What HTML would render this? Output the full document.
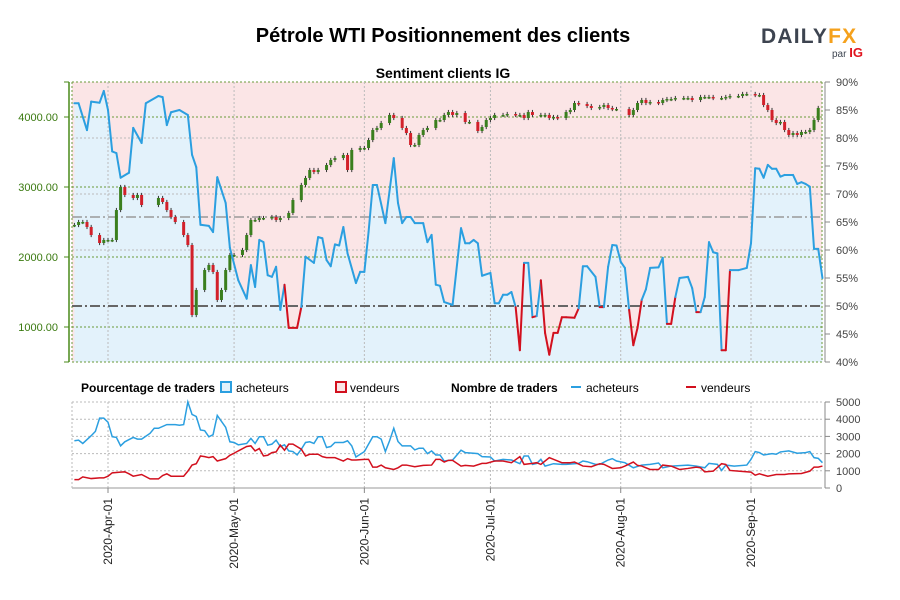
<!DOCTYPE html>
<html><head><meta charset="utf-8">
<style>
body{margin:0;background:#fff;width:900px;height:600px;overflow:hidden;font-family:"Liberation Sans",sans-serif}
svg{display:block}
</style></head>
<body>
<svg id="c" width="900" height="600" xmlns="http://www.w3.org/2000/svg">
<text x="443" y="42" text-anchor="middle" font-size="20" font-weight="bold" fill="#000">Pétrole WTI Positionnement des clients</text>
<text x="443" y="78" text-anchor="middle" font-size="14" font-weight="bold" fill="#000">Sentiment clients IG</text>
<g>
<text x="761" y="43" font-size="21" font-weight="bold" letter-spacing="1.2" fill="#3d4450">DAILY<tspan fill="#f5a11c">FX</tspan></text>
<text x="832" y="57" font-size="10" fill="#3d4450">par <tspan font-weight="bold" font-size="13" fill="#e0141e">IG</tspan></text>
</g>
<g id="main"></g>
<g id="lower"></g>
<g font-family="'Liberation Sans Narrow','Liberation Sans',sans-serif" font-size="12">
<text x="81" y="392" font-weight="bold">Pourcentage de traders</text>
<rect x="221" y="382" width="10" height="10" fill="#e3f2fb" stroke="#2b9fe0" stroke-width="2"/>
<text x="236" y="392">acheteurs</text>
<rect x="336" y="382" width="10" height="10" fill="#fbe5e6" stroke="#d2101e" stroke-width="2"/>
<text x="350" y="392">vendeurs</text>
<text x="451" y="392" font-weight="bold">Nombre de traders</text>
<line x1="571" y1="387" x2="581" y2="387" stroke="#2b9fe0" stroke-width="2"/>
<text x="586" y="392">acheteurs</text>
<line x1="686" y1="387" x2="696" y2="387" stroke="#d2101e" stroke-width="2"/>
<text x="701" y="392">vendeurs</text>
</g>
</svg>
<script>
// days are offsets from 2020-04-01
const pctDays=[-8,-7,-5,-4,-2,-1,0,1,2,3,5,6,8,9,12,13,14,15,17,19,20,21,22,24,25,26,28,29,31,33,34,35,36,37,38,39,40,41,42,43,45,46,47,49,50,51,52,53,54,55,56,57,59,60,61,62,63,64,66,68,69,70,71,72,73,75,76,77,78,79,80,82,84,85,86,87,88,89,91,92,93,94,95,96,97,98,99,100,101,102,103,104,105,106,107,108,109,111,112,113,114,116,117,118,119,120,121,122,123,124,125,126,127,128,129,131,132,133,134,135,136,138,139,140,141,142,143,144,145,146,147,148,150,152,153,154,155,156,157,158,159,160,161,163,164,165,166,167,168,169,170];
const pctBuyers=[86.2,86.2,81.4,86.5,86.3,88.4,85,77.6,77.3,72.9,73.8,81.8,79.1,86.2,87.5,87.3,82.3,84.6,85,84.1,77,74.8,64.5,64.3,63.2,73,68.4,60.4,54.6,51.3,57.3,53.4,61.8,61.4,55.5,55.2,57,49.3,53.8,46.1,46.1,49.8,58.8,57.7,62.3,62.1,58.2,57.1,61,60.8,64.1,59.4,54.1,56.1,56.1,63.2,71.6,71.6,64.8,76.4,68.4,64.8,65.9,65.9,64.8,64.8,61.4,62.7,53.8,53.6,50.7,50.2,63.9,61.2,61.2,61.8,61.2,55.4,55.9,50.5,50.5,52,52,52.5,49.8,42.1,57.7,57.7,48,48.2,54.6,45.2,41.3,45.2,45.2,48,48,47.9,49.6,57.1,57.1,55.2,49.8,49.8,57,60.9,60.8,57.9,56.8,49.3,43,46.1,51.1,53,56.8,56.9,58.6,46.8,46.8,51.6,55,55.2,53.2,48.9,48.9,51.6,61.4,59.6,59.4,42.1,42.1,56.4,56.4,56.8,61.2,74.6,74.5,72.9,75.2,74.5,74.5,73.1,73.4,73.4,71.8,72.1,71.8,71.3,60.2,60.2,55];
const candleDays=[-8,-7,-6,-5,-4,-2,-1,0,1,2,3,4,6,7,8,12,13,14,15,16,18,19,20,21,23,24,25,26,27,28,29,30,32,33,34,35,36,37,39,40,41,43,44,46,47,48,49,50,52,53,54,56,57,58,60,61,62,63,64,65,67,68,70,71,72,73,74,75,76,78,79,80,81,82,83,85,86,88,89,90,91,92,94,95,97,98,99,100,101,103,104,105,106,107,109,110,111,112,114,115,117,118,119,120,121,124,125,126,127,128,129,131,132,133,134,135,137,138,139,141,142,143,144,146,147,148,150,151,152,154,155,156,157,158,159,160,161,162,163,164,165,166,167,168,169];
const candleClose=[2457,2500,2500,2429,2314,2200,2243,2243,2243,2671,3000,2886,2843,2886,2743,2843,2786,2671,2571,2500,2314,2171,1171,1529,1814,1886,1786,1386,1529,1814,2029,2029,2100,2314,2529,2529,2557,2557,2571,2529,2557,2629,2814,3029,3129,3243,3214,3243,3314,3386,3414,3457,3243,3529,3557,3557,3671,3814,3843,3914,4029,3986,3843,3771,3600,3600,3743,3814,3843,3957,3957,4029,4071,4029,4057,3929,3929,3800,3857,3957,3986,4029,4029,4043,4029,4029,3986,4071,4029,4029,4029,3986,4000,3986,4071,4100,4200,4186,4157,4129,4143,4171,4129,4114,4114,4029,4100,4200,4243,4200,4214,4200,4243,4257,4257,4271,4271,4271,4243,4286,4286,4286,4271,4271,4286,4300,4300,4329,4329,4314,4314,4171,4100,3957,3914,3929,3814,3743,3771,3743,3786,3786,3814,3957,4129];
const buyDays=[-8,-7,-6,-4,-3,-2,-1,0,1,2,3,4,6,7,8,10,11,12,14,15,16,17,18,19,20,21,22,23,24,25,26,28,29,30,31,33,34,35,36,37,38,39,40,41,42,43,44,45,46,47,48,49,50,51,52,53,54,56,57,58,59,61,62,63,64,65,66,67,68,69,70,72,73,74,75,76,77,78,79,80,81,82,84,85,87,88,89,91,92,94,96,98,99,100,101,102,103,104,106,108,109,112,113,114,116,117,119,120,121,123,125,127,129,131,132,134,138,140,142,143,145,146,147,149,152,153,154,155,156,158,159,160,162,164,166,167,168,169,170];
const buyCount=[2745,2784,2588,3039,3294,4059,4059,3824,2980,2941,2451,2686,2941,2843,2843,3176,3471,3471,3686,3686,3686,3650,3686,5000,4275,4157,3373,3333,2980,3098,4216,3529,2686,2647,2510,2588,2882,2588,2980,2980,2490,2549,2784,2412,2510,2157,2118,1922,2255,2647,2686,2588,2980,2980,2353,2412,2647,2647,2745,2451,1804,2118,2549,2980,2980,2843,2118,2745,3471,2706,2451,2451,2216,2314,2314,2000,2157,1922,1922,1569,1608,1627,2196,2059,2020,2000,1824,1804,1569,1667,1627,1412,1863,1863,1373,1431,1667,1275,1412,1373,1373,1431,1569,1529,1373,1373,1627,1706,1569,1471,1176,1333,1373,1451,1176,1275,1333,1275,1176,1431,1373,1020,1333,1275,1333,1667,2118,2059,1922,2000,1961,2098,2157,2020,2059,2118,1765,1725,1471];
const sellDays=[-8,-7,-6,-4,-2,-1,0,1,3,4,5,6,8,10,12,13,14,15,17,18,19,20,21,22,23,24,25,26,28,29,30,31,33,34,35,36,37,38,39,40,41,42,43,44,46,47,48,50,51,52,53,54,56,57,58,59,61,62,63,64,65,66,68,69,70,71,73,75,77,78,79,80,81,82,84,85,87,89,90,92,94,96,98,99,101,102,103,105,106,108,110,111,113,115,117,118,120,122,123,125,126,127,129,131,132,134,136,138,140,141,142,144,146,147,148,150,153,154,155,157,159,161,162,165,167,168,169,170];
const sellCount=[490,490,647,549,588,588,686,882,922,941,824,686,784,529,529,725,824,686,686,686,980,1333,1412,1863,1824,1765,1824,1569,1706,1902,2020,2157,2412,2451,2157,2294,1863,1902,2059,2098,2490,2196,2549,2549,2255,1863,1961,1961,1824,1765,1765,1765,1569,1706,1627,1627,1667,1667,1216,1216,1333,1176,1078,1176,1333,1333,1235,1314,1333,1667,1667,1510,1608,1608,1275,1314,1275,1431,1431,1569,1569,1471,1824,1373,1431,1471,1373,1765,1667,1471,1471,1510,1275,1235,1412,1373,1137,1176,1275,1510,1314,1275,1078,1078,1333,1275,1078,1137,1216,1176,941,980,1412,1373,1020,980,922,745,824,686,784,784,824,843,980,1216,1216,1275];
const dateTicks=[0,30,61,91,122,153];
const dateLabels=["2020-Apr-01","2020-May-01","2020-Jun-01","2020-Jul-01","2020-Aug-01","2020-Sep-01"];
const priceTicks=[1000,2000,3000,4000];
const pctTicks=[40,45,50,55,60,65,70,75,80,85,90];
const countTicks=[0,1000,2000,3000,4000,5000];

const NS="http://www.w3.org/2000/svg";
const L=72,R=822,MT=82,MB=362,LT=402,LB=488;
const xS=d=>108+d*4.2026;
const yP=p=>MT+(90-p)*5.6;
const yPr=v=>117+(4000-v)*0.07;
const yC=v=>LB-v*0.0172;
function mk(parent,tag,attrs){const e=document.createElementNS(NS,tag);for(const k in attrs)e.setAttribute(k,attrs[k]);parent.appendChild(e);return e;}
const main=document.getElementById('main'),low=document.getElementById('lower');

const bg=mk(main,'rect',{x:L,y:MT,width:R-L,height:MB-MT,fill:'#fbe5e6'});


let area=`M${xS(pctDays[0])},${MB}`;
pctDays.forEach((d,i)=>area+=` L${xS(d)},${yP(pctBuyers[i])}`);
area+=` L${xS(pctDays[pctDays.length-1])},${MB} Z`;
const ar=mk(main,'path',{d:area,fill:'#e3f2fb'});


[80,70,60].forEach(p=>mk(main,'line',{x1:L,x2:R,y1:yP(p),y2:yP(p),stroke:'#bbb','stroke-dasharray':'2,2'}));
priceTicks.forEach(v=>mk(main,'line',{x1:L,x2:R,y1:yPr(v),y2:yPr(v),stroke:'#6a9a3a','stroke-dasharray':'2,2'}));
[MT,MB].forEach(y=>mk(main,'line',{x1:L,x2:R,y1:y,y2:y,stroke:'#6a9a3a','stroke-dasharray':'2,2'}));
dateTicks.forEach(d=>{mk(main,'line',{x1:xS(d),x2:xS(d),y1:MT,y2:MB,stroke:'#bbb','stroke-dasharray':'2,2'});mk(low,'line',{x1:xS(d),x2:xS(d),y1:LT,y2:LB,stroke:'#bbb','stroke-dasharray':'2,2'});});
mk(main,'line',{x1:L,x2:L,y1:MT,y2:MB,stroke:'#6a9a3a','stroke-dasharray':'2,2'});
mk(main,'line',{x1:R,x2:R,y1:MT,y2:MB,stroke:'#6a9a3a','stroke-dasharray':'2,2'});
mk(main,'line',{x1:L,x2:R,y1:yP(65.9),y2:yP(65.9),stroke:'#999','stroke-width':1.5,'stroke-dasharray':'10,3,2,3'});
mk(main,'line',{x1:L,x2:R,y1:yP(50),y2:yP(50),stroke:'#666','stroke-width':2,'stroke-dasharray':'10,3,2,3'});
candleDays.forEach((d,i)=>{
  const c=candleClose[i],o=i>0?candleClose[i-1]:c;
  const x=xS(d),hi=Math.max(o,c)+30,lo=Math.min(o,c)-30;
  const g=mk(main,'g',{});
  
  
  mk(g,'line',{x1:x,x2:x,y1:yPr(hi),y2:yPr(lo),stroke:'#333','stroke-width':1});
  const top=yPr(Math.max(o,c)),h=Math.max(1.5,Math.abs(yPr(o)-yPr(c)));
  mk(g,'rect',{x:x-1.5,y:top,width:3,height:h,fill:c>=o?'#3a7f1e':'#d2202a'});
});
for(let i=1;i<pctDays.length;i++){
  const a=pctBuyers[i-1],b=pctBuyers[i];
  const s=mk(main,'line',{x1:xS(pctDays[i-1]),y1:yP(a),x2:xS(pctDays[i]),y2:yP(b),stroke:(a+b)/2<50?'#d2101e':'#2b9fe0','stroke-width':2,'stroke-linecap':'round'});
  
  
}
mk(main,'line',{x1:69,x2:69,y1:MT,y2:MB,stroke:'#4a8a1a','stroke-width':1.5});
mk(main,'line',{x1:64,x2:69,y1:MT,y2:MT,stroke:'#4a8a1a'});mk(main,'line',{x1:64,x2:69,y1:MB,y2:MB,stroke:'#4a8a1a'});
priceTicks.forEach(v=>{
  mk(main,'line',{x1:64,x2:69,y1:yPr(v),y2:yPr(v),stroke:'#4a8a1a'});
  const t=mk(main,'text',{x:58,y:yPr(v)+4,'text-anchor':'end','font-size':11,fill:'#3a7a10'});
  t.textContent=v.toFixed(2);
  
  
});
mk(main,'line',{x1:825,x2:825,y1:MT,y2:MB,stroke:'#888'});
pctTicks.forEach(p=>{
  mk(main,'line',{x1:825,x2:830,y1:yP(p),y2:yP(p),stroke:'#888'});
  const t=mk(main,'text',{x:836,y:yP(p)+4,'font-size':11,fill:'#444','font-family':"'Liberation Sans Narrow','Liberation Sans',sans-serif"});
  t.textContent=p+'%';
  
  
});
countTicks.forEach(v=>{
  mk(low,'line',{x1:L,x2:R,y1:yC(v),y2:yC(v),stroke:v===0?'#999':'#bbb','stroke-dasharray':v===0?'':'2,2'});
  mk(low,'line',{x1:825,x2:830,y1:yC(v),y2:yC(v),stroke:'#888'});
  const t=mk(low,'text',{x:836,y:yC(v)+4,'font-size':11,fill:'#444','font-family':"'Liberation Sans Narrow','Liberation Sans',sans-serif"});
  t.textContent=v;
  
  
});
mk(low,'line',{x1:825,x2:825,y1:LT,y2:LB,stroke:'#888'});
mk(low,'line',{x1:L,x2:L,y1:LT,y2:LB,stroke:'#bbb','stroke-dasharray':'2,2'});
const bp=mk(low,'polyline',{points:buyDays.map((d,i)=>xS(d)+','+yC(buyCount[i])).join(' '),fill:'none',stroke:'#2b9fe0','stroke-width':1.5});


const sp=mk(low,'polyline',{points:sellDays.map((d,i)=>xS(d)+','+yC(sellCount[i])).join(' '),fill:'none',stroke:'#d2101e','stroke-width':1.5});


dateTicks.forEach((d,i)=>{
  const x=xS(d);
  mk(low,'line',{x1:x,x2:x,y1:LB,y2:LB+5,stroke:'#888'});
  const t=mk(low,'text',{x:0,y:0,'text-anchor':'end','font-size':12,fill:'#222',transform:`translate(${x+4},${LB+10}) rotate(-90)`,'font-family':"'Liberation Sans Narrow','Liberation Sans',sans-serif"});
  t.textContent=dateLabels[i];
  
  
});
</script>
</body></html>
